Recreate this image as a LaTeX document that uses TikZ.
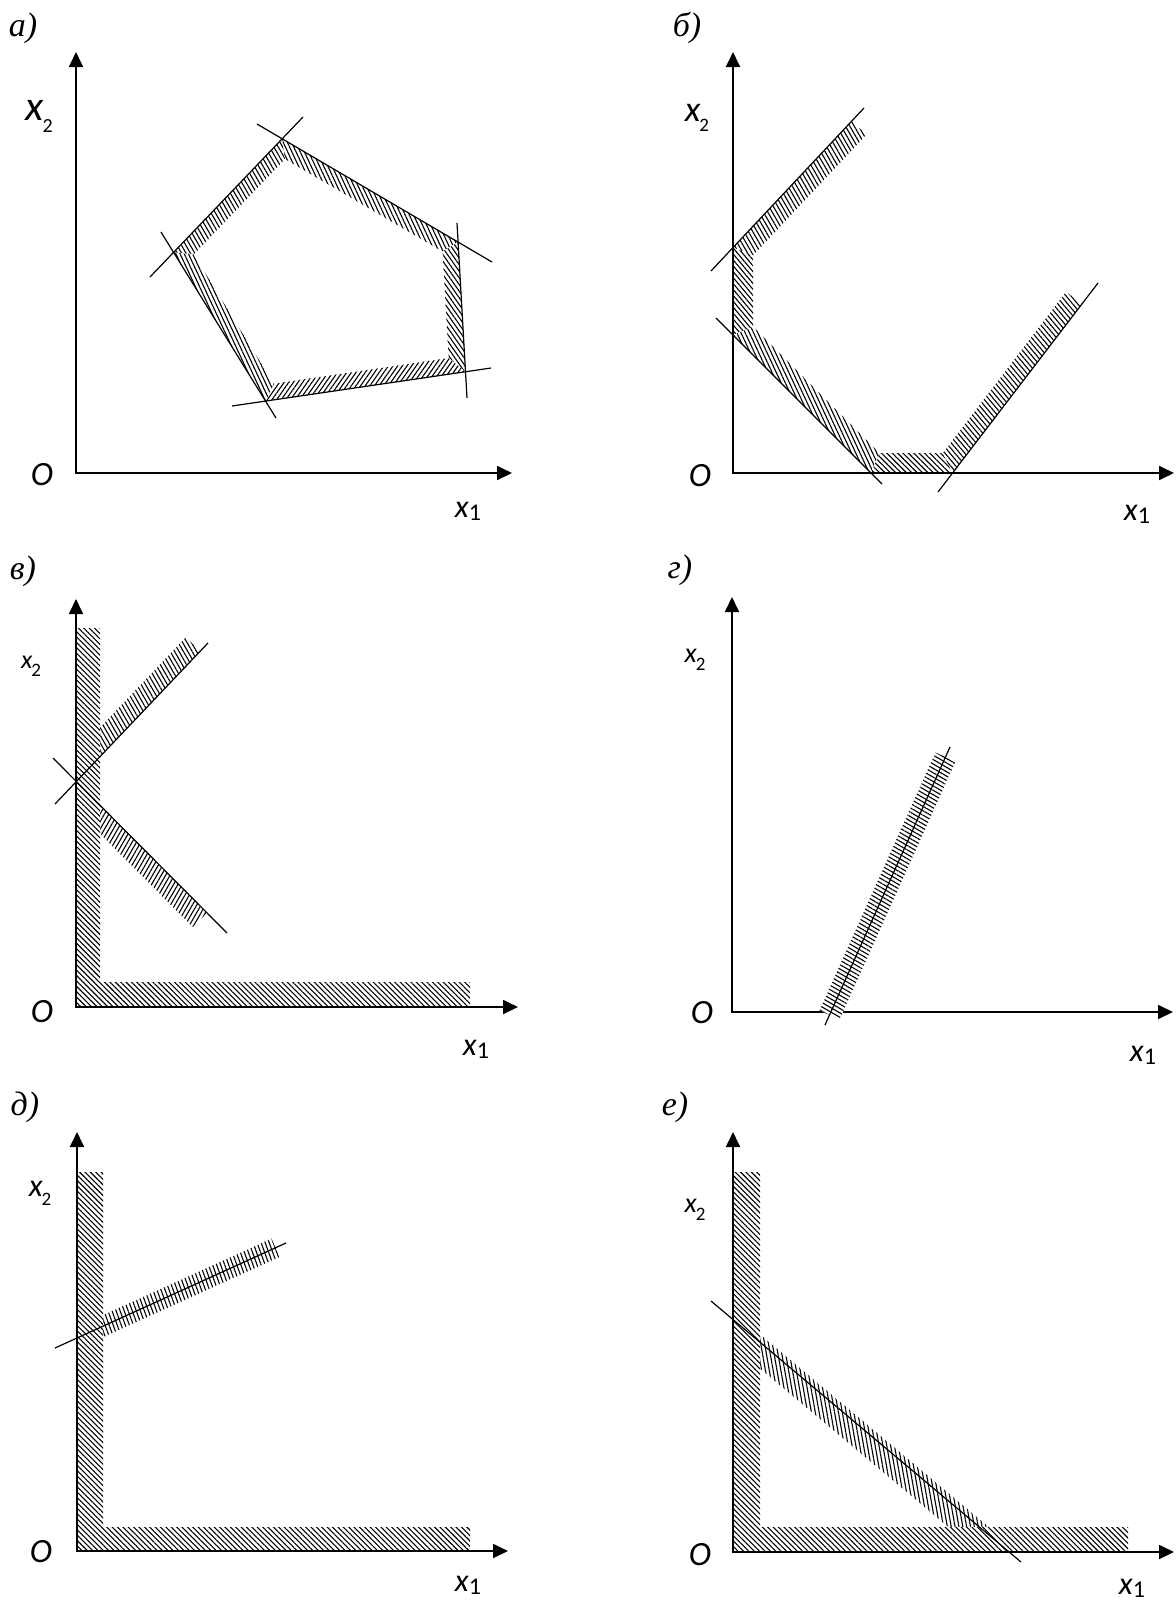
\documentclass[tikz,border=0pt]{standalone}
\usepackage{fontspec}
\setmainfont{Liberation Serif}
\newfontfamily\carl{Carlito}
\usetikzlibrary{calc,patterns.meta,arrows.meta}
\newcommand{\xlab}[5]{{\carl\fontsize{#1}{#1}\selectfont\itshape x}\kern#5\raisebox{-#4}{\carl\fontsize{#2}{#2}\selectfont #3}}
\begin{document}
\begin{tikzpicture}[x=0.5pt,y=-0.5pt,
  axes/.style={line width=0.9pt,{Triangle[length=7.5pt,width=7pt]}-{Triangle[length=7.5pt,width=7pt]}},
  bnd/.style={line width=0.6pt},
  hatch/.style={preaction={fill=white},pattern={Lines[angle=#1,distance=1.9pt,line width=0.55pt]}},
  lbl/.style={inner sep=0pt,anchor=center},
  oo/.style={lbl,font=\carl\itshape\fontsize{17pt}{17pt}\selectfont},
  pl/.style={lbl,font=\itshape\fontsize{17pt}{17pt}\selectfont}]
\useasboundingbox (0,0) rectangle (1176,1603);
\fill[white] (0,0) rectangle (1176,1603);

% ================= panel a =================
\coordinate (A1s) at (150,277); \coordinate (A1e) at (303,117);
\coordinate (A2s) at (257,124); \coordinate (A2e) at (492,262);
\coordinate (A3s) at (457,223); \coordinate (A3e) at (467,398);
\coordinate (A4s) at (491,368); \coordinate (A4e) at (232,406);
\coordinate (A5s) at (276,418); \coordinate (A5e) at (161,232);
\coordinate (AV1) at (intersection of A1s--A1e and A2s--A2e);
\coordinate (AV2) at (intersection of A2s--A2e and A3s--A3e);
\coordinate (AV3) at (intersection of A3s--A3e and A4s--A4e);
\coordinate (AV4) at (intersection of A4s--A4e and A5s--A5e);
\coordinate (AV5) at (intersection of A5s--A5e and A1s--A1e);
\coordinate (B1s) at ($(A1s)!8pt!-90:(A1e)$); \coordinate (B1e) at ($(A1e)!8pt!90:(A1s)$);
\coordinate (B2s) at ($(A2s)!8pt!-90:(A2e)$); \coordinate (B2e) at ($(A2e)!8pt!90:(A2s)$);
\coordinate (B3s) at ($(A3s)!8pt!-90:(A3e)$); \coordinate (B3e) at ($(A3e)!8pt!90:(A3s)$);
\coordinate (B4s) at ($(A4s)!8pt!-90:(A4e)$); \coordinate (B4e) at ($(A4e)!8pt!90:(A4s)$);
\coordinate (B5s) at ($(A5s)!8pt!-90:(A5e)$); \coordinate (B5e) at ($(A5e)!8pt!90:(A5s)$);
\coordinate (AI1) at (intersection of B1s--B1e and B2s--B2e);
\coordinate (AI2) at (intersection of B2s--B2e and B3s--B3e);
\coordinate (AI3) at (intersection of B3s--B3e and B4s--B4e);
\coordinate (AI4) at (intersection of B4s--B4e and B5s--B5e);
\coordinate (AI5) at (intersection of B5s--B5e and B1s--B1e);
\path[hatch=-60] (AV5)--(AV1)--(AI1)--(AI5)--cycle;
\path[hatch=-65] (AV1)--(AV2)--(AI2)--(AI1)--cycle;
\path[hatch=-55] (AV2)--(AV3)--(AI3)--(AI2)--cycle;
\path[hatch=55] (AV3)--(AV4)--(AI4)--(AI3)--cycle;
\path[hatch=-65] (AV4)--(AV5)--(AI5)--(AI4)--cycle;
\coordinate (Oa) at (76,473); \coordinate (Ya) at (76,52); \coordinate (Xa) at (512,473);
\draw[axes] (Ya)--(Oa)--(Xa);
\draw[bnd] (A1s)--(A1e); \draw[bnd] (A2s)--(A2e); \draw[bnd] (A3s)--(A3e);
\draw[bnd] (A4s)--(A4e); \draw[bnd] (A5s)--(A5e);
\node[pl] (la) at (23,28) {а)};
\node[lbl] (x2a) at (39,116) {\xlab{21pt}{10pt}{2}{6pt}{-0.5pt}};
\node[oo] (oa) at (42,475) {O};
\node[lbl] (x1a) at (468,511) {\xlab{16pt}{12pt}{1}{1.5pt}{0pt}};

% ================= panel b =================
\coordinate (Ob) at (733,473); \coordinate (Yb) at (733,52); \coordinate (Xb) at (1174,473);
\coordinate (BAs) at (711,271); \coordinate (BAe) at (864,108);
\coordinate (BBs) at (716,318); \coordinate (BBe) at (882,484);
\coordinate (BCs) at (938,492); \coordinate (BCe) at (1098,283);
\coordinate (Bt) at ($(BAs)!0.92!(BAe)$);
\coordinate (BQ1) at (intersection of BAs--BAe and Ob--Yb);
\coordinate (BQ2) at (intersection of BBs--BBe and Ob--Yb);
\coordinate (BQ3) at (intersection of BBs--BBe and Ob--Xb);
\coordinate (BQ4) at (intersection of BCs--BCe and Ob--Xb);
\coordinate (Bu) at ($(BCs)!0.9!(BCe)$);
\coordinate (BP01) at ($(Bt)!10pt!90:(BQ1)$); \coordinate (BP10) at ($(BQ1)!10pt!-90:(Bt)$);
\coordinate (BP12) at ($(BQ1)!10pt!90:(BQ2)$); \coordinate (BP21) at ($(BQ2)!10pt!-90:(BQ1)$);
\coordinate (BP23) at ($(BQ2)!10pt!90:(BQ3)$); \coordinate (BP32) at ($(BQ3)!10pt!-90:(BQ2)$);
\coordinate (BP34) at ($(BQ3)!10pt!90:(BQ4)$); \coordinate (BP43) at ($(BQ4)!10pt!-90:(BQ3)$);
\coordinate (BP45) at ($(BQ4)!10pt!90:(Bu)$); \coordinate (BP54) at ($(Bu)!10pt!-90:(BQ4)$);
\coordinate (BJ1) at (intersection of BP01--BP10 and BP12--BP21);
\coordinate (BJ2) at (intersection of BP12--BP21 and BP23--BP32);
\coordinate (BJ3) at (intersection of BP23--BP32 and BP34--BP43);
\coordinate (BJ4) at (intersection of BP34--BP43 and BP45--BP54);
\path[hatch=-60] (Bt)--(BQ1)--(BJ1)--(BP01)--cycle;
\path[hatch=-50] (BQ1)--(BQ2)--(BJ2)--(BJ1)--cycle;
\path[hatch=-65] (BQ2)--(BQ3)--(BJ3)--(BJ2)--cycle;
\path[hatch=-45] (BQ3)--(BQ4)--(BJ4)--(BJ3)--cycle;
\path[hatch=-50] (BQ4)--(Bu)--(BP54)--(BJ4)--cycle;
\draw[axes] (Yb)--(Ob)--(Xb);
\draw[bnd] (BAs)--(BAe); \draw[bnd] (BBs)--(BBe); \draw[bnd] (BCs)--(BCe);
\node[pl] (lb) at (687,28) {б)};
\node[lbl] (x2b) at (697,118) {\xlab{18pt}{9.5pt}{2}{5pt}{-0.5pt}};
\node[oo] (ob) at (700,476) {O};
\node[lbl] (x1b) at (1137,514) {\xlab{16pt}{12pt}{1}{1.5pt}{0pt}};

% ================= panel v =================
\coordinate (Oc) at (76,1007); \coordinate (Yc) at (76,599); \coordinate (Xc) at (518,1007);
\coordinate (CUs) at (55,804); \coordinate (CUe) at (208,643);
\coordinate (CDs) at (53,758); \coordinate (CDe) at (227,933);
\coordinate (CUa) at (intersection of CUs--CUe and Oc--Yc);
\coordinate (CUb) at ($(CUs)!0.95!(CUe)$);
\coordinate (CUb2) at ($(CUb)!10pt!-90:(CUa)$);
\coordinate (CUa2) at ($(CUa)!10pt!90:(CUb)$);
\coordinate (CUc) at (intersection of CUa2--CUb2 and Oc--Yc);
\coordinate (CDa) at (intersection of CDs--CDe and Oc--Yc);
\coordinate (CDb) at ($(CDs)!0.885!(CDe)$);
\coordinate (CDb2) at ($(CDb)!10pt!90:(CDa)$);
\coordinate (CDa2) at ($(CDa)!10pt!-90:(CDb)$);
\coordinate (CDc) at (intersection of CDa2--CDb2 and Oc--Yc);
\path[hatch=-60] (CUa)--(CUb)--(CUb2)--(CUc)--cycle;
\path[hatch=60] (CDa)--(CDb)--(CDb2)--(CDc)--cycle;
\path[hatch=-45] (76,628)--(100,628)--(100,982)--(470,982)--(470,1007)--(76,1007)--cycle;
\draw[axes] (Yc)--(Oc)--(Xc);
\draw[bnd] (CUs)--(CUe); \draw[bnd] (CDs)--(CDe);
\node[pl] (lc) at (23,571) {в)};
\node[lbl] (x2c) at (31,666) {\xlab{13pt}{9.5pt}{2}{4pt}{-0.5pt}};
\node[oo] (oc) at (42,1012) {O};
\node[lbl] (x1c) at (476,1049) {\xlab{16pt}{12pt}{1}{1.5pt}{0pt}};

% ================= panel g =================
\coordinate (Od) at (732,1012); \coordinate (Yd) at (732,597); \coordinate (Xd) at (1173,1012);
\draw[axes] (Yd)--(Od)--(Xd);
\coordinate (GLs) at (825,1025); \coordinate (GLe) at (950,747);
\coordinate (Gc1) at ($(GLs)!0.036!(GLe)$); \coordinate (Gc2) at ($(GLs)!0.964!(GLe)$);
\path[hatch=-30] ($(Gc1)!5.5pt!90:(Gc2)$) -- ($(Gc2)!5.5pt!-90:(Gc1)$) -- ($(Gc2)!5.5pt!90:(Gc1)$) -- ($(Gc1)!5.5pt!-90:(Gc2)$) -- cycle;
\draw[bnd] (GLs)--(GLe);
\node[pl] (ld) at (680,570) {г)};
\node[lbl] (x2d) at (695,660) {\xlab{14pt}{9.5pt}{2}{4pt}{-0.5pt}};
\node[oo] (od) at (702,1013) {O};
\node[lbl] (x1d) at (1143,1055) {\xlab{16pt}{12pt}{1}{1.5pt}{0pt}};

% ================= panel d =================
\coordinate (Oe) at (77,1551); \coordinate (Ye) at (77,1132); \coordinate (Xe) at (508,1551);
\coordinate (ELs) at (55,1348); \coordinate (ELe) at (286,1243);
\coordinate (Ec1) at ($(ELs)!0.1515!(ELe)$); \coordinate (Ec2) at ($(ELs)!0.955!(ELe)$);
\path[hatch=110] ($(Ec1)!5pt!90:(Ec2)$) -- ($(Ec2)!5pt!-90:(Ec1)$) -- ($(Ec2)!5pt!90:(Ec1)$) -- ($(Ec1)!5pt!-90:(Ec2)$) -- cycle;
\path[hatch=-45] (77,1172)--(103,1172)--(103,1527)--(470,1527)--(470,1551)--(77,1551)--cycle;
\draw[axes] (Ye)--(Oe)--(Xe);
\draw[bnd] (ELs)--(ELe);
\node[pl] (le) at (25,1107) {д)};
\node[lbl] (x2e) at (40,1193) {\xlab{16pt}{9.5pt}{2}{4.5pt}{-0.5pt}};
\node[oo] (oe) at (41,1552) {O};
\node[lbl] (x1e) at (468,1585) {\xlab{16pt}{12pt}{1}{1.5pt}{0pt}};

% ================= panel e =================
\coordinate (Of) at (733,1552); \coordinate (Yf) at (733,1132); \coordinate (Xf) at (1174,1552);
\coordinate (FLs) at (711,1301); \coordinate (FLe) at (1021,1562);
\coordinate (Fc1) at ($(FLs)!0.119!(FLe)$); \coordinate (Fc2) at ($(FLs)!0.884!(FLe)$);
\path[hatch=100] ($(Fc1)!3pt!90:(Fc2)$) -- ($(Fc2)!3pt!-90:(Fc1)$) -- ($(Fc2)!10pt!90:(Fc1)$) -- ($(Fc1)!10pt!-90:(Fc2)$) -- cycle;
\path[hatch=-45] (733,1172)--(760,1172)--(760,1527)--(1128,1527)--(1128,1552)--(733,1552)--cycle;
\draw[axes] (Yf)--(Of)--(Xf);
\draw[bnd] (FLs)--(FLe);
\node[pl] (lf) at (675,1107) {е)};
\node[lbl] (x2f) at (695,1210) {\xlab{14pt}{9.5pt}{2}{4pt}{-0.5pt}};
\node[oo] (of) at (700,1555) {O};
\node[lbl] (x1f) at (1132,1588) {\xlab{16pt}{12pt}{1}{1.5pt}{0pt}};
\end{tikzpicture}
\end{document}
